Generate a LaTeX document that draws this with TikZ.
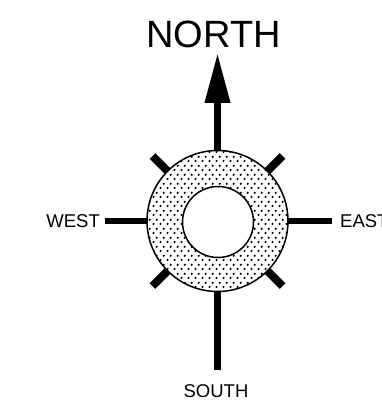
\documentclass[tikz,border=0pt]{standalone}
\usepackage{fontspec}
\setmainfont{Liberation Sans}
\usetikzlibrary{arrows.meta,patterns.meta}
\tikzdeclarepattern{
  name=ringdots,
  type=uncolored,
  bounding box={(0pt,0pt) and (6.6pt,8.6pt)},
  tile size={(6.6pt,8.6pt)},
  code={\fill (1.65pt,2.15pt) circle (1.2pt); \fill (4.95pt,6.45pt) circle (1.2pt);}
}
\begin{document}
\begin{tikzpicture}[x=1pt,y=-1pt,
  ticks/.style={line width=8pt, line cap=butt},
  arm/.style={line width=6.5pt, line cap=butt},
  lbl/.style={inner sep=0pt, font=\fontsize{18.5}{20}\selectfont},
  bigl/.style={inner sep=0pt, font=\fontsize{38}{40}\selectfont},
  ringstyle/.style={circle, inner sep=0pt, draw, line width=1.5pt}
]
\useasboundingbox (0,0) rectangle (382,401);
% coordinates for free ends
\coordinate (ntip) at (217.5,53);
\coordinate (wend) at (105,221);
\coordinate (eend) at (332,221);
\coordinate (send) at (217.5,370);
\coordinate (tul) at (152.5,156);
\coordinate (tur) at (282.5,156);
\coordinate (tll) at (152.5,286);
\coordinate (tlr) at (282.5,286);
% ring (placed first as a path-less node for anchors)
\path node[circle, inner sep=0pt, minimum size=141pt] (ring) at (217.5,221) {};
% arms and ticks
\draw[ticks] (ring.center) -- (tul);
\draw[ticks] (ring.center) -- (tur);
\draw[ticks] (ring.center) -- (tll);
\draw[ticks] (ring.center) -- (tlr);
\draw[arm] (ring.center) -- (wend);
\draw[arm] (ring.center) -- (eend);
\draw[arm] (ring.center) -- (send);
\draw[line width=7pt, -{Triangle[length=50pt,width=24pt]}] (ring.center) -- (ntip);
% ring on top
\node[ringstyle, minimum size=141pt, preaction={fill=white}, pattern=ringdots] (ringtop) at (217.5,221) {};
\node[ringstyle, minimum size=71pt, fill=white] (hole) at (218,222) {};
% labels
\node[bigl, anchor=base] (north) at (213.5,48) {NORTH};
\node[lbl, anchor=base east] (west) at (100,227.5) {WEST};
\node[lbl, anchor=base west] (east) at (340,227.5) {EAST};
\node[lbl, anchor=base] (south) at (216,397) {SOUTH};
\end{tikzpicture}
\end{document}
